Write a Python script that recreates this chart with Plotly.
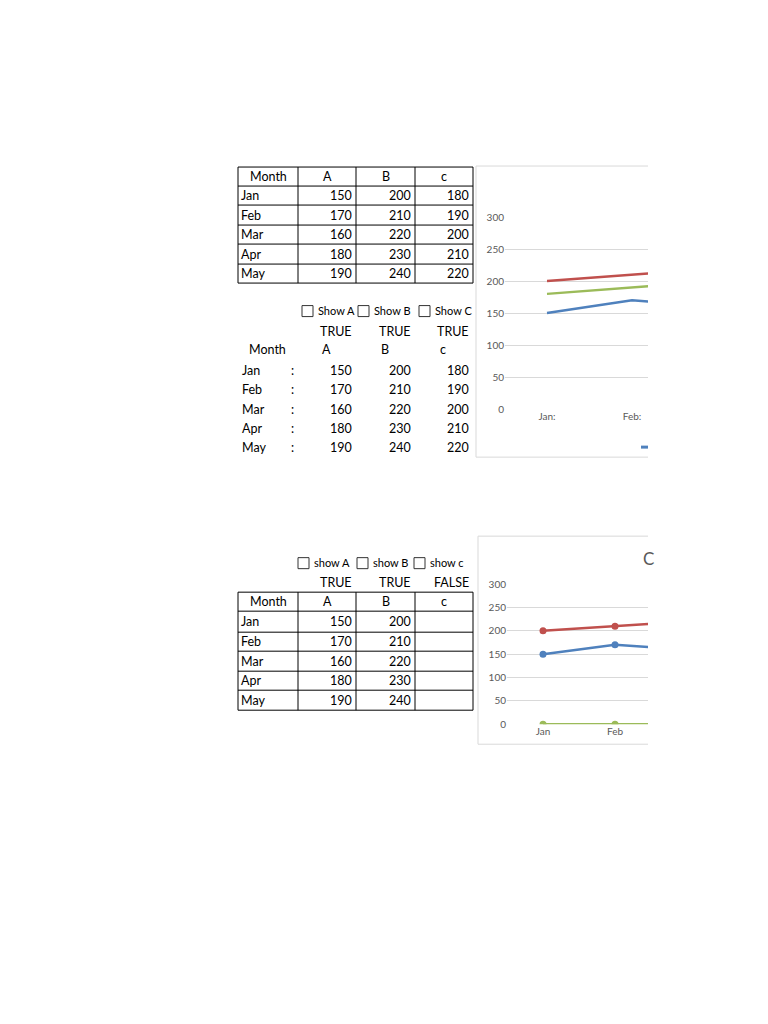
import plotly.graph_objects as go

# sheet data
months = ["Jan", "Feb", "Mar", "Apr", "May"]
a_vals = [150, 170, 160, 180, 190]
b_vals = [200, 210, 220, 230, 240]
c_vals = [180, 190, 200, 210, 220]
series_names = ["A", "B", "c"]
show_labels_1 = ["Show A", "Show B", "Show C"]
show_flags_1 = [True, True, True]
show_labels_2 = ["show A", "show B", "show c"]
show_flags_2 = [True, True, False]
y_ticks = [0, 50, 100, 150, 200, 250, 300]

colors = ["#4F81BD", "#C0504D", "#9BBB59"]
W, H = 768, 1024
FONT = "Lato"
GRID = "#D9D9D9"
AXIS_TXT = "#595959"

# page offset correction (measured from the first render)
OFF_X, OFF_Y, SCALE_Y = 8, 15, 0.988


def px(x):
    return (x - OFF_X) / W


def py(y):
    return 1 - ((y - OFF_Y) / SCALE_Y) / H


fig = go.Figure()
annotations = []
shapes = []


def text(x, y, s, anchor="left", size=12.5, color="black"):
    annotations.append(dict(
        x=px(x), y=py(y), xref="paper", yref="paper", text=s,
        showarrow=False, xanchor=anchor, yanchor="middle",
        font=dict(family=FONT, size=size, color=color),
    ))


def hline(x0, x1, y, color="black", width=1):
    shapes.append(dict(type="line", xref="paper", yref="paper",
                       x0=px(x0), x1=px(x1), y0=py(y), y1=py(y),
                       line=dict(color=color, width=width)))


def vline(x, y0, y1, color="black", width=1):
    shapes.append(dict(type="line", xref="paper", yref="paper",
                       x0=px(x), x1=px(x), y0=py(y0), y1=py(y1),
                       line=dict(color=color, width=width)))


def checkbox(x, y, label):
    shapes.append(dict(type="rect", xref="paper", yref="paper",
                       x0=px(x), x1=px(x + 11), y0=py(y - 5.5), y1=py(y + 5.5),
                       line=dict(color="#333333", width=1)))
    text(x + 14, y - 1, label, size=11)


col_edges = [238, 298, 356, 415, 473]
num_right = [354, 413, 471]
cols_vals = [a_vals, b_vals, c_vals]

# ---- table 1 (bordered, full data)
row_edges_1 = [167, 186, 205, 225, 244, 264, 283]
for y in row_edges_1:
    hline(col_edges[0], col_edges[-1], y)
for x in col_edges:
    vline(x, row_edges_1[0], row_edges_1[-1])
hdr_y = (row_edges_1[0] + row_edges_1[1]) / 2
text((col_edges[0] + col_edges[1]) / 2, hdr_y, "Month", "center")
for i, name in enumerate(series_names):
    text((col_edges[i + 1] + col_edges[i + 2]) / 2, hdr_y, name, "center")
for r, m in enumerate(months):
    yc = (row_edges_1[r + 1] + row_edges_1[r + 2]) / 2
    text(col_edges[0] + 1, yc, m)
    for i, vals in enumerate(cols_vals):
        text(num_right[i], yc, str(vals[r]), "right")

# ---- table 2 (no borders, checkboxes)
for x, lab in zip([302, 358, 419], show_labels_1):
    checkbox(x, 311, lab)
for i, f in enumerate(show_flags_1):
    text(num_right[i], 331, "TRUE" if f else "FALSE", "right")
text(247, 349, "Month")
for x, name in zip([320, 379, 438], series_names):
    text(x, 349, name)
rows_2 = [370, 389, 409, 428, 447]
for r, m in enumerate(months):
    text(240, rows_2[r], m)
    text(292, rows_2[r], ":", "center")
    for i, vals in enumerate(cols_vals):
        text(num_right[i], rows_2[r], str(vals[r]), "right")

# ---- table 3 (bordered, filtered by flags)
for x, lab in zip([298, 357, 414], show_labels_2):
    checkbox(x, 563, lab)
for i, f in enumerate(show_flags_2):
    text(num_right[i], 582, "TRUE" if f else "FALSE", "right")
row_edges_3 = [592, 611, 632, 651, 671, 690, 710]
for y in row_edges_3:
    hline(col_edges[0], col_edges[-1], y)
for x in col_edges:
    vline(x, row_edges_3[0], row_edges_3[-1])
hdr_y = (row_edges_3[0] + row_edges_3[1]) / 2
text((col_edges[0] + col_edges[1]) / 2, hdr_y, "Month", "center")
for i, name in enumerate(series_names):
    text((col_edges[i + 1] + col_edges[i + 2]) / 2, hdr_y, name, "center")
for r, m in enumerate(months):
    yc = (row_edges_3[r + 1] + row_edges_3[r + 2]) / 2
    text(col_edges[0] + 1, yc, m)
    for i, vals in enumerate(cols_vals):
        if show_flags_2[i]:
            text(num_right[i], yc, str(vals[r]), "right")

# ---- chart 1 (lines, no markers)
for vals, col, name in zip(cols_vals, colors, series_names):
    fig.add_trace(go.Scatter(
        x=[m + ":" for m in months], y=vals, mode="lines", name=name,
        line=dict(color=col, width=2.5), xaxis="x", yaxis="y",
        showlegend=False,
    ))

# ---- chart 2 (lines + markers, hidden series drawn at zero)
for vals, col, name, f in zip(cols_vals, colors, series_names, show_flags_2):
    fig.add_trace(go.Scatter(
        x=months, y=[v if f else 0 for v in vals], mode="lines+markers",
        name=name, line=dict(color=col, width=2.5),
        marker=dict(color=col, size=7), xaxis="x2", yaxis="y2",
        showlegend=False,
    ))

# chart frames (cropped on the right)
for left, top, bottom in [(476, 166, 457), (478, 536, 744)]:
    hline(left, 648, top, GRID)
    hline(left, 648, bottom, GRID)
    vline(left, top, bottom, GRID)

# legend stub of chart 1 and title stub of chart 2
hline(641, 648, 447, colors[0], 3)
text(641, 558, "C", "left", 17, AXIS_TXT)

axis_common = dict(showline=False, zeroline=False, ticks="",
                   tickfont=dict(family=FONT, size=10, color=AXIS_TXT))

fig.update_layout(
    width=W, height=H,
    margin=dict(l=0, r=0, t=0, b=0),
    paper_bgcolor="white", plot_bgcolor="white",
    showlegend=False,
    xaxis=dict(domain=[px(505), px(648)], anchor="y",
               range=[(505 - 547) / 85, (648 - 547) / 85],
               showgrid=False, **axis_common),
    yaxis=dict(domain=[py(409), py(217)], anchor="x", range=[0, 300],
               tickvals=y_ticks, gridcolor=GRID, gridwidth=1, **axis_common),
    xaxis2=dict(domain=[px(507), px(648)], anchor="y2",
                range=[(507 - 543) / 72, (648 - 543) / 72],
                showgrid=False, **axis_common),
    yaxis2=dict(domain=[py(724), py(584)], anchor="x2", range=[0, 300],
                tickvals=y_ticks, gridcolor=GRID, gridwidth=1, **axis_common),
    annotations=annotations,
    shapes=shapes,
)

fig.write_html("out.html")
